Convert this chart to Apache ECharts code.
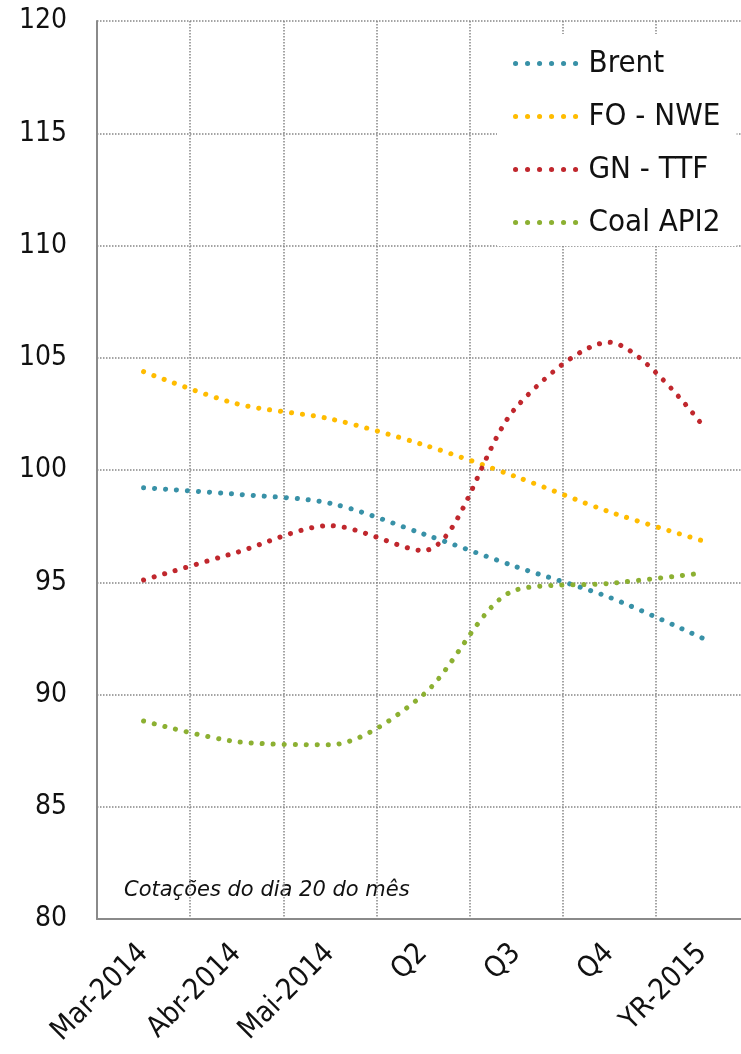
<!DOCTYPE html>
<html>
<head>
<meta charset="utf-8">
<script src="https://cdn.jsdelivr.net/npm/echarts@6/dist/echarts.min.js"></script>
<style>
  html, body { margin: 0; padding: 0; background: #fff; overflow: hidden; }
  #chart { width: 760px; height: 1054px; }
</style>
</head>
<body>
<div id="chart"></div>
<script>
const categories = ["Mar-2014", "Abr-2014", "Mai-2014", "Q2", "Q3", "Q4", "YR-2015"];
const brent = [99.21, 98.92, 98.52, 97.16, 95.69, 94.33, 92.51];
const foNwe = [104.38, 102.95, 102.28, 101.13, 99.7, 98.14, 96.85];
const gnTtf = [95.1, 96.33, 97.52, 96.41, 102.79, 105.69, 102.0];
const coalApi2 = [88.82, 87.9, 87.76, 89.98, 94.66, 94.95, 95.41];
const yTicks = { min: 80, max: 120, interval: 5 };
const note = "Cotações do dia 20 do mês";

const FONT = "DejaVu Sans Condensed";
const gridLine = { color: "#878787", width: 1.5, type: [1.5, 1.5] };
const dotted = { width: 5, type: [0.1, 11.9], cap: "round" };

// wider than the window on purpose: the last category runs off the right edge
const chart = echarts.init(document.querySelector("#chart"));

function lineSeries(name, data, color) {
  return {
    name,
    type: "line",
    data,
    smooth: 0.3,
    symbol: "none",
    lineStyle: { ...dotted, color, type: [0.1, 10.9] },
    itemStyle: { color },
  };
}

chart.setOption({
  animation: false,
  textStyle: { fontFamily: FONT },
  grid: { left: 97, top: 21, width: 652, bottom: 135 },
  legend: {
    orient: "vertical",
    left: 497,
    top: 34,
    backgroundColor: "#fff",
    padding: [14, 16, 8, 16],
    itemWidth: 62,
    itemHeight: 4,
    itemGap: 22,
    itemStyle: { opacity: 0 },
    lineStyle: dotted,
    textStyle: { fontFamily: FONT, fontSize: 31, color: "#111", padding: [0, 0, 0, 6] },
    data: ["Brent", "FO - NWE", "GN - TTF", "Coal API2"],
  },
  xAxis: {
    type: "category",
    data: categories,
    boundaryGap: true,
    axisLine: { lineStyle: { color: "#8a8a8a", width: 2 } },
    axisTick: { show: false },
    axisLabel: { rotate: 45, fontSize: 29, color: "#111", margin: 30, interval: 0 },
    splitLine: { show: true, lineStyle: gridLine },
  },
  yAxis: {
    type: "value",
    min: yTicks.min,
    max: yTicks.max,
    interval: yTicks.interval,
    axisLine: { show: true, lineStyle: { color: "#8a8a8a", width: 2 } },
    axisTick: { show: false },
    axisLabel: { fontSize: 28, color: "#111", margin: 30 },
    splitLine: { show: true, lineStyle: gridLine },
  },
  graphic: [
    {
      type: "text",
      left: 124,
      top: 880,
      style: { text: note, fontFamily: "DejaVu Sans", fontStyle: "italic", fontSize: 21, fill: "#111" },
    },
  ],
  series: [
    lineSeries("Brent", brent, "#3891a7"),
    lineSeries("FO - NWE", foNwe, "#ffbc00"),
    lineSeries("GN - TTF", gnTtf, "#c0272d"),
    lineSeries("Coal API2", coalApi2, "#8cb032"),
  ],
});
</script>
</body>
</html>
